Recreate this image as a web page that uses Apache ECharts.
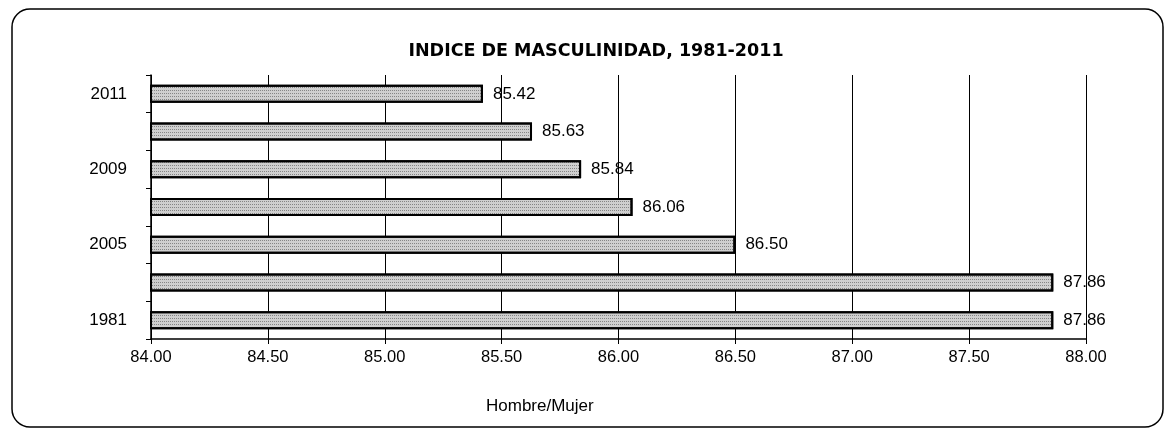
<!DOCTYPE html>
<html>
<head>
<meta charset="utf-8">
<script src="https://cdn.jsdelivr.net/npm/echarts@6/dist/echarts.min.js"></script>
<style>
html,body{margin:0;padding:0;background:#fff;}
#c{width:1173px;height:435px;}
</style>
</head>
<body>
<div id="c"></div>
<script>
// Data (bottom to top)
const years = ['1981', '1993', '2005', '2007', '2009', '2010', '2011'];
const indice = [87.86, 87.86, 86.50, 86.06, 85.84, 85.63, 85.42];
const xTicks = [84.0, 84.5, 85.0, 85.5, 86.0, 86.5, 87.0, 87.5, 88.0];
const titleText = 'INDICE DE MASCULINIDAD, 1981-2011';
const xName = 'Hombre/Mujer';

const font = 'Liberation Sans, Arial, sans-serif';
const chart = echarts.init(document.getElementById('c'));
chart.setOption({
  animation: false,
  backgroundColor: '#fff',
  aria: {enabled: true, decal: {show: true}},
  title: {
    text: titleText,
    left: 591, top: 37, textAlign: 'center',
    textStyle: {fontFamily: 'DejaVu Sans, Liberation Sans, Arial', fontWeight: 'bold', fontSize: 17.5, color: '#000'}
  },
  graphic: [
    {type: 'rect', shape: {x: 12, y: 9, width: 1151, height: 418, r: 18}, style: {fill: 'none', stroke: '#000', lineWidth: 1.5}, silent: true},
    {type: 'text', left: 486, top: 398, style: {text: xName, fontFamily: font, fontSize: 17, fill: '#000'}}
  ],
  grid: {left: 151, right: 87, top: 75, bottom: 96},
  xAxis: {
    type: 'value', min: xTicks[0], max: xTicks[xTicks.length - 1], interval: 0.5,
    axisLine: {show: true, lineStyle: {color: '#000', width: 1.5}},
    axisTick: {show: true, length: 5, lineStyle: {color: '#000'}},
    axisLabel: {fontFamily: font, fontSize: 16.5, color: '#000', margin: 10, formatter: v => v.toFixed(2)},
    splitLine: {show: true, lineStyle: {color: '#000', width: 1}}
  },
  yAxis: {
    type: 'category', data: years,
    axisLine: {show: true, lineStyle: {color: '#000', width: 1.5}},
    axisTick: {show: true, interval: 0, length: 5, lineStyle: {color: '#000'}},
    axisLabel: {interval: 1, fontFamily: font, fontSize: 17, color: '#000', margin: 24, padding: [8, 0, 0, 0]}
  },
  series: [{
    type: 'bar',
    data: indice,
    barWidth: 18,
    itemStyle: {
      color: '#cfcfcf', borderColor: '#000', borderWidth: 2,
      decal: {symbol: 'rect', symbolSize: 1, color: 'rgba(60,60,60,0.5)', dashArrayX: [1, 1], dashArrayY: [1, 2], rotation: 0}
    },
    label: {show: true, position: 'right', distance: 10, fontFamily: font, fontSize: 17, color: '#000', formatter: p => p.value.toFixed(2)}
  }]
});
</script>
</body>
</html>
